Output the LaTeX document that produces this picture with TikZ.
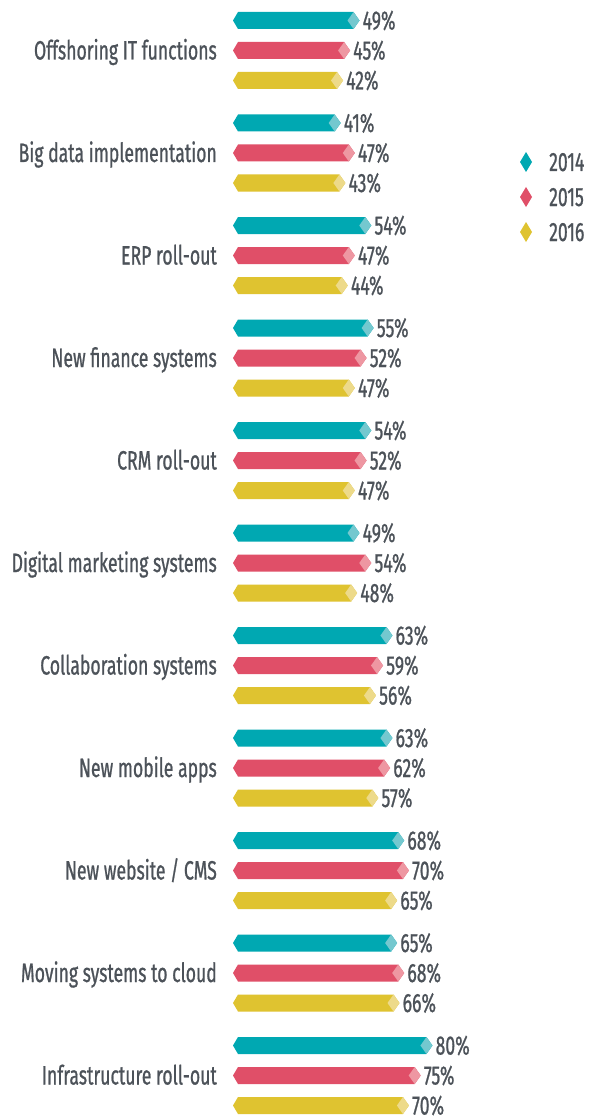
\documentclass[tikz,border=0pt]{standalone}
\usepackage{fontspec}
\setmainfont{Fira Sans}[FakeStretch=0.665,FakeBold=0.8]
\definecolor{cA}{HTML}{00A8B2}
\definecolor{lA}{HTML}{74C8CF}
\definecolor{cB}{HTML}{E04F68}
\definecolor{lB}{HTML}{EE97A2}
\definecolor{cC}{HTML}{DFC330}
\definecolor{lC}{HTML}{EDDA8A}
\definecolor{txt}{HTML}{4C5259}
\begin{document}
\begin{tikzpicture}[x=1pt,y=-1pt,
  lab/.style={font=\fontsize{26.5}{28}\selectfont, text=txt, inner sep=0pt, text height=18pt, text depth=0pt}]
\fill[white] (0,0) rectangle (590,1118);
\foreach \name/\a/\b/\c [count=\g from 0] in {
  {Offshoring IT functions}/49/45/42,
  {Big data implementation}/41/47/43,
  {ERP roll-out}/54/47/44,
  {New finance systems}/55/52/47,
  {CRM roll-out}/54/52/47,
  {Digital marketing systems}/49/54/48,
  {Collaboration systems}/63/59/56,
  {New mobile apps}/63/62/57,
  {New website / CMS}/68/70/65,
  {Moving systems to cloud}/65/68/66,
  {Infrastructure roll-out}/80/75/70}{
  \pgfmathsetmacro\ym{20.5+102.5*\g+30}
  \node[lab, anchor=east] (cat\g) at (217,\ym) {\name};
  \foreach \v/\col/\lcol [count=\r from 0] in {\a/cA/lA,\b/cB/lB,\c/cC/lC}{
    \pgfmathsetmacro\yy{20.5+102.5*\g+30*\r}
    \pgfmathsetmacro\cx{244.2+2.353*\v-6}
    \fill[\col] (233,\yy) -- (238,\yy-8.5) -- (\cx,\yy-8.5) -- (\cx+6,\yy) -- (\cx,\yy+8.5) -- (238,\yy+8.5) -- cycle;
    \fill[\lcol] (\cx-6,\yy) -- (\cx,\yy-8.5) -- (\cx+6,\yy) -- (\cx,\yy+8.5) -- cycle;
    \node[lab, anchor=west] (v\g-\r) at (\cx+9,\yy) {\v\%};
  }
}
\foreach \yr/\col [count=\i from 0] in {2014/cA,2015/cB,2016/cC}{
  \pgfmathsetmacro\ly{162+35*\i}
  \fill[\col] (526,\ly-10) -- (532,\ly) -- (526,\ly+10) -- (520,\ly) -- cycle;
  \node[lab, anchor=west] (leg\yr) at (549,\ly) {\yr};
}
\end{tikzpicture}
\end{document}
